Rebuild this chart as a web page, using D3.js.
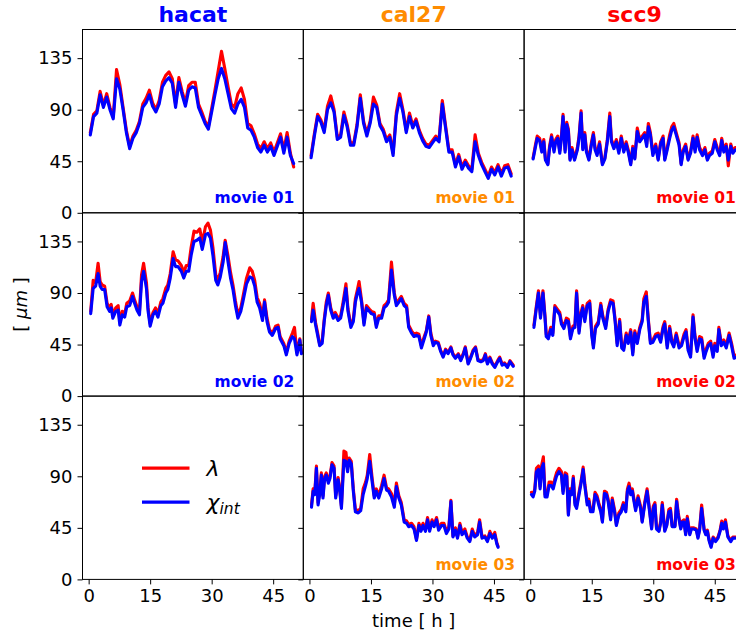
<!DOCTYPE html>
<html>
<head>
<meta charset="utf-8">
<script src="https://cdn.jsdelivr.net/npm/d3@7"></script>
<style>
  html, body { margin: 0; padding: 0; background: #fff; overflow: hidden; }
  svg { display: block; font-family: "DejaVu Sans", sans-serif; }
</style>
</head>
<body>
<svg id="chart" width="736" height="634"></svg>
<script>
// ---- categories, ticks, labels ----
const cellLines = ["hacat", "cal27", "scc9"];
const lineColors = ["#0000ff", "#ff8c00", "#ff0000"];
const yTicks = [0, 45, 90, 135];
const xTicks = [0, 15, 30, 45];
const seriesColors = { lambda: "#ff0000", chi: "#0000ff" };

// ---- sampling grid shared by the smoother recordings (hours) ----
const gridHours = [
  0.4,1.2,2.0,2.8,3.6,4.4,5.2,6.0,6.8,7.6,
  8.4,9.2,10.0,10.8,11.6,12.4,13.2,14.0,14.8,15.6,
  16.4,17.2,18.0,18.8,19.6,20.4,21.2,22.0,22.8,23.6,
  24.4,25.2,26.0,26.8,27.6,28.4,29.2,30.0,30.8,31.6,
  32.4,33.2,34.0,34.8,35.6,36.4,37.2,38.0,38.8,39.6,
  40.4,41.2,42.0,42.8,43.6,44.4,45.2,46.0,46.8,47.6,
  48.4,49.2,50.0
];

// ---- hacat, movie 01 ----
const hacat01Lambda = [
  70,86,89,106,94,104,92,84,125,112,
  92,72,58,67,72,80,95,100,107,96,
  90,98,114,120,123,117,95,118,106,96,
  111,114,114,95,88,80,75,91,107,124,
  141,126,110,95,92,104,109,99,78,76,
  69,60,56,62,56,61,53,61,69,55,
  70,52,40
];
const hacat01Chi = [
  68,84,87,103,92,101,90,82,117,108,
  90,70,56,65,70,78,92,96,103,93,
  88,95,110,115,118,113,92,114,103,93,
  107,110,109,92,85,78,73,88,103,117,
  126,117,104,91,87,95,99,92,74,72,
  66,57,53,59,53,58,50,58,66,52,
  66,50,43
];

// ---- cal27, movie 01 ----
const cal2701Lambda = [
  50,69,86,81,72,93,102,90,66,68,
  88,77,61,61,77,103,80,69,80,101,
  94,78,73,64,68,52,88,104,90,72,
  87,76,82,72,65,60,59,63,67,64,
  98,76,55,55,42,51,40,46,41,38,
  68,52,44,38,32,40,35,42,34,41,
  42,34
];
const cal2701Chi = [
  48,67,84,79,70,90,96,88,64,66,
  85,75,59,59,75,100,78,67,78,95,
  92,76,71,62,66,50,85,100,88,70,
  84,74,80,70,63,58,57,61,65,62,
  95,74,53,53,40,49,38,44,39,36,
  62,50,42,36,30,38,33,40,32,39,
  40,32
];

// ---- scc9, movie 01 ----
const scc901Hours = [
  0.7,1.3,1.7,2.3,2.8,3.3,3.7,4.3,4.7,5.2,
  5.8,6.2,6.7,7.2,7.6,8.0,8.5,8.9,9.3,9.7,
  10.2,10.8,11.5,11.9,12.4,12.8,13.3,13.7,14.3,14.9,
  15.4,15.8,16.3,16.9,17.6,18.2,18.8,19.4,19.8,20.4,
  21.0,21.6,22.2,22.8,23.4,23.9,24.5,25.0,25.5,26.1,
  26.7,27.3,27.9,28.4,28.8,29.3,29.9,30.6,31.2,31.8,
  32.4,32.8,33.4,34.0,34.5,35.0,35.6,36.3,36.8,37.3,
  37.9,38.5,39.1,39.7,40.2,40.7,41.3,42.0,42.6,43.2,
  43.7,44.4,45.0,45.6,46.2,46.7,47.2,47.8,48.3,48.9,
  49.4,50.0,50.6,51.2
];
const scc901Lambda = [
  48,60,67,65,55,64,47,43,58,68,
  55,64,67,54,67,86,55,79,73,47,
  57,47,57,67,89,57,70,55,47,61,
  70,57,52,62,43,48,64,87,64,58,
  64,54,67,55,62,55,43,58,48,74,
  64,67,70,60,78,70,52,60,47,62,
  67,47,57,68,75,78,70,61,43,55,
  60,47,54,67,55,68,57,52,57,47,
  52,54,64,57,52,65,55,60,41,60,
  54,57,56,52
];
const scc901Chi = [
  47,58,65,63,53,62,46,42,56,66,
  53,62,65,52,65,84,53,77,71,46,
  55,46,55,65,87,55,68,53,46,59,
  68,55,50,60,42,47,62,84,62,56,
  62,52,65,53,60,53,42,56,47,71,
  62,65,68,58,75,68,50,58,46,60,
  65,46,55,65,72,75,68,59,42,53,
  58,46,52,65,53,66,55,50,55,46,
  50,52,62,55,50,63,53,58,46,58,
  52,55,54,50
];

// ---- hacat, movie 02 ----
const hacat02Hours = [
  0.5,1.1,1.7,2.3,2.8,3.3,3.9,4.5,5.1,5.5,
  5.9,6.6,7.2,7.6,8.2,8.8,9.3,10.0,10.7,11.2,
  11.8,12.4,12.9,13.4,14.1,14.5,15.0,15.7,16.3,16.9,
  17.6,18.1,18.8,19.3,19.9,20.6,21.2,21.8,22.6,23.2,
  23.8,24.4,25.0,25.7,26.4,27.1,27.7,28.5,29.1,29.7,
  30.3,31.0,31.5,32.1,32.8,33.3,34.0,34.6,35.2,35.8,
  36.4,37.1,37.6,38.5,39.3,39.9,40.5,41.1,41.7,42.4,
  42.9,43.5,44.1,44.8,45.6,46.2,46.7,47.6,48.2,48.9,
  49.7,50.2,50.8,51.5,51.9
];
const hacat02Lambda = [
  74,101,99,116,100,97,96,81,77,80,
  71,77,79,65,74,72,81,83,90,84,
  78,74,106,116,99,77,63,73,77,72,
  82,85,94,97,107,126,119,118,114,108,
  114,114,130,144,143,146,134,148,151,145,
  130,106,101,108,122,136,122,108,97,83,
  71,77,86,103,112,109,101,86,81,69,
  84,68,58,55,61,62,52,46,38,48,
  55,60,38,50,38
];
const hacat02Chi = [
  72,94,96,107,96,93,93,78,74,77,
  68,74,75,62,71,69,78,79,87,81,
  75,71,100,109,94,74,61,71,74,69,
  79,81,90,93,103,120,113,113,109,103,
  109,109,123,135,136,138,128,141,142,138,
  123,101,97,104,117,134,117,103,93,79,
  68,74,82,98,104,103,96,82,77,66,
  82,65,56,53,59,60,50,44,36,46,
  52,50,36,49,37
];

// ---- cal27, movie 02 ----
const cal2702Hours = [
  0.5,0.9,1.5,2.0,2.5,3.1,3.6,4.1,4.6,5.2,
  5.8,6.3,7.0,7.6,8.2,8.9,9.4,10.1,10.7,11.2,
  11.7,12.1,12.7,13.3,13.9,14.6,15.1,15.8,16.3,16.9,
  17.6,18.2,18.8,19.3,20.0,20.7,21.2,21.8,22.4,23.1,
  23.7,24.2,24.9,25.5,26.1,26.7,27.3,28.0,28.5,29.1,
  29.6,30.2,30.7,31.4,32.0,32.6,33.2,33.8,34.5,35.0,
  35.6,36.3,36.9,37.5,38.0,38.7,39.3,39.9,40.5,41.1,
  41.8,42.4,42.9,43.4,44.0,44.6,45.2,45.9,46.4,47.0,
  47.6,48.3,48.9,49.7
];
const cal2702Lambda = [
  67,81,64,55,45,48,67,82,90,77,
  70,73,68,70,82,98,76,62,67,85,
  93,100,84,64,79,76,74,73,62,70,
  70,79,81,84,117,90,81,84,87,81,
  79,62,57,54,55,54,44,52,57,70,
  55,46,48,47,40,35,41,38,43,37,
  34,37,32,37,43,29,34,40,43,32,
  31,32,37,29,34,29,26,31,34,28,
  29,26,31,27
];
const cal2702Chi = [
  65,75,62,53,44,46,65,79,88,75,
  68,71,66,68,79,94,74,60,65,82,
  90,94,82,62,77,74,72,71,60,68,
  68,77,79,82,110,88,79,82,85,79,
  77,60,55,52,53,52,42,50,56,69,
  53,44,47,46,39,34,40,37,42,36,
  33,36,31,36,42,28,33,39,42,31,
  30,31,36,28,33,28,25,30,33,27,
  28,25,30,26
];

// ---- scc9, movie 02 ----
const scc902Hours = [
  0.9,1.5,2.0,2.5,3.1,3.6,3.9,4.4,5.0,5.5,
  6.0,6.6,7.2,7.6,8.2,8.8,9.3,9.8,10.4,10.9,
  11.3,11.9,12.4,12.8,13.3,13.9,14.5,15.0,15.4,15.9,
  16.6,17.2,17.7,18.4,19.0,19.6,20.2,20.7,21.2,21.8,
  22.3,22.8,23.4,23.9,24.5,25.0,25.5,26.1,26.7,27.3,
  27.7,28.3,28.8,29.3,29.9,30.6,31.2,31.8,32.4,32.8,
  33.4,34.0,34.5,35.0,35.6,36.3,36.9,37.5,38.0,38.5,
  39.1,39.7,40.2,40.7,41.3,41.8,42.4,42.9,43.4,44.0,
  44.6,45.0,45.6,46.0,46.6,47.2,47.8,48.5,49.1,49.7,
  50.3
];
const scc902Lambda = [
  62,79,92,70,92,70,54,52,60,55,
  79,76,73,65,61,68,67,52,61,62,
  92,57,73,79,67,81,83,55,44,61,
  65,81,70,61,76,84,83,67,46,67,
  44,42,55,48,58,38,57,48,60,67,
  85,91,67,48,49,54,55,49,61,65,
  44,61,49,45,55,44,46,54,58,42,
  36,71,52,41,52,51,35,41,46,48,
  36,46,41,60,46,49,44,55,46,35,
  36
];
const scc902Chi = [
  60,77,90,68,90,68,52,50,58,53,
  77,74,71,63,59,66,65,50,59,60,
  90,55,71,77,65,79,81,53,42,59,
  63,79,68,59,74,82,81,65,44,65,
  42,40,53,46,56,36,55,46,58,65,
  82,87,65,46,47,52,53,47,59,63,
  42,59,47,43,53,42,44,52,56,40,
  34,69,50,39,50,49,33,39,44,46,
  34,44,39,58,44,47,42,53,44,33,
  34
];

// ---- cal27, movie 03 ----
const cal2703Hours = [
  0.5,0.9,1.3,1.7,2.1,2.5,2.9,3.3,3.7,4.1,
  4.6,5.0,5.5,6.0,6.4,7.0,7.4,7.8,8.4,8.9,
  9.3,9.7,10.2,10.7,11.2,11.9,12.5,13.1,13.7,14.1,
  14.7,15.3,15.8,16.3,16.9,17.6,18.2,18.8,19.3,20.0,
  20.7,21.2,21.8,22.4,23.1,23.7,24.2,24.9,25.5,26.1,
  26.7,27.2,27.7,28.3,28.8,29.3,29.9,30.4,31.0,31.5,
  32.2,32.8,33.4,34.0,34.5,35.0,35.6,36.1,36.7,37.2,
  37.9,38.5,39.1,39.7,40.3,41.0,41.5,42.1,42.8,43.4,
  44.0,44.6,45.2,45.7,46.0
];
const cal2703Lambda = [
  65,79,76,99,67,76,93,73,90,93,
  86,90,102,99,73,89,79,64,112,111,
  97,106,103,79,61,60,62,79,85,91,
  109,88,73,79,73,82,91,80,79,75,
  65,84,73,67,52,51,48,49,46,35,
  49,44,49,44,54,44,52,48,54,45,
  49,49,42,46,69,38,45,37,49,41,
  44,37,34,44,38,41,52,37,38,34,
  42,37,41,32,29
];
const cal2703Chi = [
  63,77,74,97,65,74,91,71,88,91,
  84,88,100,97,71,87,77,62,104,103,
  94,104,101,77,59,58,60,74,82,88,
  103,85,71,77,71,79,88,78,77,72,
  63,81,71,65,50,49,46,47,44,34,
  47,42,47,42,52,42,50,46,52,43,
  47,47,40,44,68,37,43,36,47,39,
  42,36,33,42,37,39,50,36,37,33,
  40,36,39,31,28
];

// ---- scc9, movie 03 ----
const scc903Hours = [
  0.3,0.7,1.1,1.5,2.0,2.4,2.8,3.2,3.6,4.1,
  4.6,5.1,5.6,6.0,6.4,7.0,7.6,8.0,8.5,8.9,
  9.3,9.7,10.1,10.5,10.9,11.3,11.9,12.4,12.9,13.3,
  13.9,14.3,14.7,15.3,15.8,16.3,16.7,17.2,17.6,18.1,
  18.6,19.0,19.6,20.0,20.6,21.0,21.6,22.2,22.7,23.3,
  23.7,24.1,24.5,24.9,25.3,25.7,26.3,26.9,27.3,27.9,
  28.5,29.1,29.6,30.0,30.4,30.8,31.4,31.8,32.2,32.8,
  33.3,33.8,34.2,34.6,35.3,35.7,36.1,36.7,37.1,37.5,
  37.9,38.3,38.9,39.3,39.9,40.5,40.9,41.3,41.8,42.4,
  42.8,43.2,43.6,44.1,44.6,45.2,45.8,46.3,46.7,47.1,
  47.6,48.2,48.9,49.4,50.0
];
const scc903Lambda = [
  76,74,79,97,99,81,100,107,74,74,
  85,85,82,88,93,97,94,77,93,92,
  57,79,76,90,67,64,76,86,98,84,
  67,70,61,61,76,73,67,61,51,77,
  76,70,54,71,60,48,58,61,67,61,
  79,84,76,79,70,62,73,64,51,67,
  79,61,45,64,67,45,43,51,67,43,
  48,61,62,47,47,70,58,45,51,52,
  40,55,40,45,45,44,37,44,65,44,
  40,43,35,29,37,34,37,43,51,45,
  52,38,34,37,37
];
const scc903Chi = [
  74,72,77,94,96,79,97,101,72,72,
  82,82,79,85,90,94,91,75,91,90,
  56,77,74,88,65,62,74,84,96,82,
  65,68,59,59,74,71,65,59,50,75,
  74,68,52,69,58,47,56,59,65,59,
  77,81,74,77,68,60,71,62,50,65,
  77,59,44,62,65,44,42,49,65,42,
  47,59,60,46,46,68,56,44,50,50,
  39,53,39,44,44,43,36,43,62,43,
  39,42,34,28,36,33,36,42,49,44,
  50,37,33,36,36
];

// ---- panel table: which recording goes where ----
const panels = [
  { row: 0, col: 0, movie: "movie 01", hours: gridHours,    lambda: hacat01Lambda, chi: hacat01Chi },
  { row: 0, col: 1, movie: "movie 01", hours: gridHours,    lambda: cal2701Lambda, chi: cal2701Chi },
  { row: 0, col: 2, movie: "movie 01", hours: scc901Hours,  lambda: scc901Lambda,  chi: scc901Chi },
  { row: 1, col: 0, movie: "movie 02", hours: hacat02Hours, lambda: hacat02Lambda, chi: hacat02Chi },
  { row: 1, col: 1, movie: "movie 02", hours: cal2702Hours, lambda: cal2702Lambda, chi: cal2702Chi },
  { row: 1, col: 2, movie: "movie 02", hours: scc902Hours,  lambda: scc902Lambda,  chi: scc902Chi },
  { row: 2, col: 1, movie: "movie 03", hours: cal2703Hours, lambda: cal2703Lambda, chi: cal2703Chi },
  { row: 2, col: 2, movie: "movie 03", hours: scc903Hours,  lambda: scc903Lambda,  chi: scc903Chi }
];

// ---- layout ----
const svg = d3.select("#chart");
const left0 = 82.5, top0 = 29.5, cellW = 220.8, cellH = 183.3;
const lineWidth = 3.1;
const x = d3.scaleLinear().domain([-1.5, 52.35]).range([0, cellW]);
const y = d3.scaleLinear().domain([0, 160]).range([cellH, 0]);

const cells = [];
for (let r = 0; r < 3; r++) for (let c = 0; c < 3; c++) cells.push({ r, c });

const defs = svg.append("defs");
defs.append("clipPath").attr("id", "cellClip")
  .append("rect").attr("x", 0).attr("y", 0).attr("width", cellW).attr("height", cellH);

const cellG = {};
cells.forEach(({ r, c }) => {
  const g = svg.append("g")
    .attr("transform", `translate(${left0 + c * cellW},${top0 + r * cellH})`);
  cellG[`${r}-${c}`] = g;
});

// data lines: lambda underneath, chi_int on top
const makeLine = hours => d3.line()
  .x((d, i) => x(hours[i]))
  .y(d => y(d));

panels.forEach(p => {
  const g = cellG[`${p.row}-${p.col}`];
  const plot = g.append("g").attr("clip-path", "url(#cellClip)");
  const line = makeLine(p.hours);
  plot.append("path").datum(p.lambda)
    .attr("d", line).attr("fill", "none")
    .attr("stroke", seriesColors.lambda).attr("stroke-width", lineWidth)
    .attr("stroke-linejoin", "round").attr("stroke-linecap", "round");
  plot.append("path").datum(p.chi)
    .attr("d", line).attr("fill", "none")
    .attr("stroke", seriesColors.chi).attr("stroke-width", lineWidth)
    .attr("stroke-linejoin", "round").attr("stroke-linecap", "round");
  g.append("text")
    .attr("x", cellW - 9).attr("y", cellH - 9.5)
    .attr("text-anchor", "end")
    .attr("font-size", 15.5).attr("font-weight", "bold")
    .attr("fill", lineColors[p.col])
    .text(p.movie);
});

// frames and axes
cells.forEach(({ r, c }) => {
  const g = cellG[`${r}-${c}`];
  g.append("rect").attr("x", 0).attr("y", 0)
    .attr("width", cellW).attr("height", cellH)
    .attr("fill", "none").attr("stroke", "#000").attr("stroke-width", 1);

  const yAxis = g.append("g").call(
    d3.axisLeft(y).tickValues(yTicks).tickSize(5).tickPadding(5)
      .tickFormat(c === 0 ? d3.format("d") : () => "")
  );
  yAxis.select(".domain").remove();
  yAxis.attr("font-family", "DejaVu Sans").attr("font-size", 18);
  yAxis.selectAll("text").attr("fill", "#000");

  if (r === 2) {
    const xAxis = g.append("g").attr("transform", `translate(0,${cellH})`).call(
      d3.axisBottom(x).tickValues(xTicks).tickSize(5).tickPadding(5).tickFormat(d3.format("d"))
    );
    xAxis.select(".domain").remove();
    xAxis.attr("font-family", "DejaVu Sans").attr("font-size", 18);
    xAxis.selectAll("text").attr("fill", "#000");
  }
});

// column titles
cellLines.forEach((name, c) => {
  svg.append("text")
    .attr("x", left0 + c * cellW + cellW / 2).attr("y", 22)
    .attr("text-anchor", "middle")
    .attr("font-size", 22).attr("font-weight", "bold")
    .attr("fill", lineColors[c])
    .text(name);
});

// axis titles
svg.append("text")
  .attr("x", left0 + 1.5 * cellW).attr("y", 627)
  .attr("text-anchor", "middle").attr("font-size", 18)
  .text("time [ h ]");

const yl = svg.append("text")
  .attr("transform", `translate(27,${top0 + 1.5 * cellH}) rotate(-90)`)
  .attr("text-anchor", "middle").attr("font-size", 18);
yl.append("tspan").text("[ ");
yl.append("tspan").attr("font-style", "italic").text("μm");
yl.append("tspan").text(" ]");

// legend in the empty lower-left cell
const lg = cellG["2-0"];
const legendItems = [
  { key: "lambda", base: "λ", sub: "" },
  { key: "chi", base: "χ", sub: "int" }
];
legendItems.forEach((item, i) => {
  const ly = 72 + i * 34;
  lg.append("line")
    .attr("x1", 59.5).attr("x2", 107)
    .attr("y1", ly).attr("y2", ly)
    .attr("stroke", seriesColors[item.key]).attr("stroke-width", lineWidth);
  const t = lg.append("text")
    .attr("x", 124).attr("y", ly + 8)
    .attr("font-size", 22).attr("font-style", "italic");
  t.append("tspan").text(item.base);
  if (item.sub) {
    t.append("tspan").attr("font-size", 15.5).attr("dy", 4).text(item.sub);
  }
});
</script>
</body>
</html>
